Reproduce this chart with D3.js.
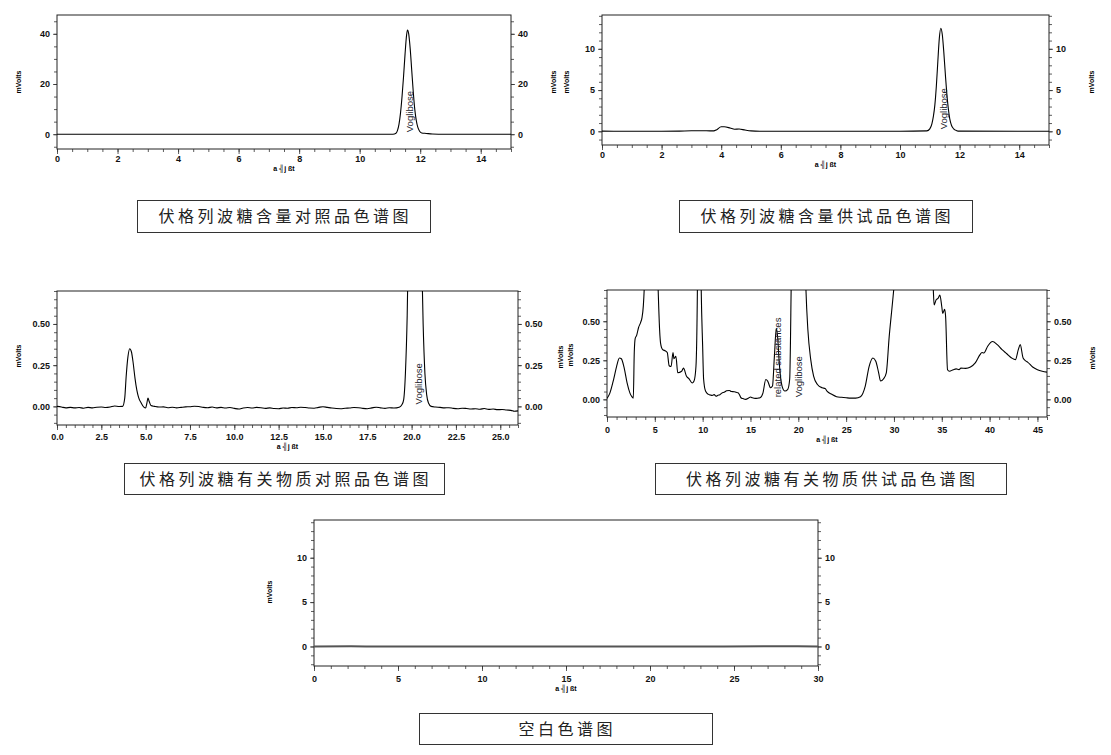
<!DOCTYPE html>
<html><head><meta charset="utf-8">
<script src="https://cdn.jsdelivr.net/npm/d3@7"></script>
<style>
html,body{margin:0;padding:0;background:#fff;}
svg{display:block;}
</style></head>
<body>
<svg id="c" width="1111" height="755"></svg>
<script>
// ---------- DATA ----------
// [retention time (min), signal (mVolts)]
const contentRefTrace = [[0,0],[11.1,0],[11.2,0.4],[11.25,1.5],[11.3,4],[11.35,8.5],[11.4,15],[11.45,23],[11.5,32],[11.55,39.5],[11.58,41.5],[11.62,40],[11.67,34],[11.72,25.5],[11.77,17],[11.82,10],[11.87,5.5],[11.92,2.8],[11.98,1.2],[12.05,0.5],[12.2,0.3],[12.4,0.05],[12.6,0],[15,0]];
const contentSampleTrace = [[0,0.02],[1,0],[2,0],[2.6,0.02],[3.0,0.06],[3.5,0.06],[3.75,0.05],[3.85,0.2],[4.0,0.55],[4.1,0.55],[4.3,0.4],[4.45,0.25],[4.6,0.28],[4.8,0.15],[5.0,0.05],[5.3,0.01],[6,0],[10,0],[10.9,0.05],[11.0,0.3],[11.07,0.9],[11.12,1.8],[11.17,3.2],[11.22,5.5],[11.27,8.5],[11.32,11.3],[11.37,12.5],[11.42,11.7],[11.47,9.6],[11.52,7.0],[11.57,4.6],[11.62,2.8],[11.67,1.5],[11.72,0.8],[11.8,0.3],[11.9,0.08],[12.0,0.02],[15,0]];
const relatedRefTrace = [[0,0],[0.25,-0.004],[0.5,-0.009],[0.75,-0.006],[1.0,-0.009],[1.25,-0.007],[1.5,-0.011],[1.75,-0.006],[2.0,-0.009],[2.25,-0.005],[2.5,-0.004],[2.75,-0.007],[3.0,-0.004],[3.25,0.002],[3.5,-0.001],[3.7,0.0],[3.82,0.05],[3.9,0.18],[4.0,0.3],[4.1,0.35],[4.2,0.33],[4.3,0.26],[4.4,0.17],[4.5,0.1],[4.6,0.055],[4.75,0.02],[4.9,-0.005],[5.0,-0.01],[5.07,0.02],[5.13,0.05],[5.2,0.03],[5.3,0.005],[5.5,0.0],[5.75,-0.004],[6.0,-0.003],[6.25,-0.008],[6.5,-0.005],[6.75,-0.009],[7.0,-0.006],[7.25,-0.003],[7.5,-0.002],[7.75,0.001],[8.0,-0.001],[8.25,-0.006],[8.5,-0.008],[8.75,-0.004],[9.0,-0.009],[9.25,-0.006],[9.5,-0.01],[9.75,-0.007],[10.0,-0.012],[10.25,-0.016],[10.5,-0.01],[10.75,-0.007],[11.0,-0.01],[11.25,-0.006],[11.5,-0.008],[11.75,-0.012],[12.0,-0.009],[12.25,-0.013],[12.5,-0.014],[12.75,-0.01],[13.0,-0.011],[13.25,-0.007],[13.5,-0.008],[13.75,-0.005],[14.0,-0.007],[14.25,-0.01],[14.5,-0.011],[14.75,-0.006],[15.0,-0.002],[15.25,-0.006],[15.5,-0.01],[15.75,-0.013],[16.0,-0.014],[16.25,-0.011],[16.5,-0.01],[16.75,-0.007],[17.0,-0.008],[17.25,-0.012],[17.5,-0.014],[17.75,-0.009],[18.0,-0.005],[18.25,-0.009],[18.5,-0.012],[18.75,-0.008],[19.0,-0.01],[19.3,-0.005],[19.45,0.01],[19.55,0.04],[19.65,0.2],[19.75,0.55],[19.85,1.2],[20.0,2.5],[20.2,3.0],[20.4,2.0],[20.55,1.0],[20.65,0.5],[20.75,0.2],[20.85,0.07],[20.95,0.02],[21.1,0.0],[21.35,-0.004],[21.6,-0.006],[21.85,-0.009],[22.1,-0.008],[22.35,-0.012],[22.6,-0.014],[22.85,-0.011],[23.1,-0.013],[23.35,-0.016],[23.6,-0.014],[23.85,-0.017],[24.1,-0.013],[24.35,-0.018],[24.6,-0.016],[24.85,-0.02],[25.1,-0.019],[25.35,-0.022],[25.6,-0.024],[25.8,-0.03],[26.0,-0.027]];
const relatedSampleTrace = [[0,0.006],[0.3,0.04],[0.7,0.13],[1.0,0.21],[1.3,0.265],[1.5,0.26],[1.8,0.2],[2.1,0.105],[2.4,0.04],[2.6,0.017],[2.75,0.008],[2.85,0.3],[2.95,0.39],[3.1,0.41],[3.3,0.46],[3.5,0.49],[3.65,0.52],[3.8,0.6],[3.9,0.72],[4.2,1.5],[4.6,2.5],[5.0,1.6],[5.25,0.9],[5.35,0.7],[5.5,0.445],[5.6,0.36],[5.8,0.32],[6.1,0.31],[6.3,0.3],[6.5,0.215],[6.7,0.21],[6.9,0.3],[7.0,0.26],[7.2,0.275],[7.4,0.17],[7.8,0.18],[8.0,0.2],[8.3,0.15],[8.6,0.13],[8.9,0.105],[9.1,0.117],[9.3,0.21],[9.45,0.7],[9.55,1.5],[9.65,1.8],[9.75,1.2],[9.85,0.7],[10.0,0.34],[10.1,0.13],[10.3,0.053],[10.6,0.032],[10.8,0.028],[11.0,0.025],[11.2,0.03],[11.4,0.02],[11.6,0.026],[11.8,0.03],[12.0,0.04],[12.3,0.047],[12.5,0.055],[12.8,0.057],[13.0,0.05],[13.3,0.049],[13.5,0.045],[13.7,0.042],[13.85,0.03],[14.0,0.01],[14.2,0.005],[14.5,0.0],[14.8,0.008],[15.0,0.015],[15.2,0.01],[15.5,0.006],[15.8,0.008],[16.0,0.01],[16.3,0.04],[16.6,0.127],[16.8,0.117],[17.1,0.074],[17.3,0.085],[17.5,0.275],[17.7,0.455],[17.85,0.39],[18.0,0.24],[18.3,0.085],[18.6,0.053],[18.9,0.064],[19.1,0.13],[19.25,0.7],[19.4,1.5],[19.8,3.0],[20.3,2.5],[20.6,1.2],[20.8,0.7],[21.0,0.445],[21.3,0.254],[21.6,0.148],[22.0,0.095],[22.5,0.074],[22.8,0.07],[23.0,0.053],[23.5,0.032],[24.0,0.017],[24.5,0.013],[25.0,0.01],[25.5,0.008],[26.0,0.008],[26.5,0.017],[27.0,0.085],[27.4,0.21],[27.8,0.265],[28.1,0.244],[28.4,0.17],[28.6,0.117],[28.9,0.13],[29.2,0.17],[29.5,0.4],[29.8,0.59],[30.0,0.72],[30.5,1.2],[32.0,1.5],[33.5,1.1],[34.1,0.72],[34.2,0.604],[34.4,0.636],[34.6,0.646],[34.8,0.667],[35.0,0.593],[35.1,0.55],[35.3,0.576],[35.4,0.53],[35.6,0.19],[35.8,0.18],[36.2,0.19],[36.5,0.195],[36.8,0.19],[37.0,0.2],[37.5,0.198],[38.0,0.207],[38.5,0.233],[39.0,0.286],[39.2,0.3],[39.4,0.297],[39.8,0.34],[40.3,0.37],[40.8,0.35],[41.3,0.318],[41.8,0.292],[42.3,0.265],[42.7,0.254],[43.0,0.318],[43.2,0.35],[43.5,0.265],[43.8,0.245],[44.0,0.237],[44.5,0.207],[45.0,0.19],[45.5,0.18],[46.0,0.174]];
const blankTrace = [[0,0],[2.2,0.02],[4,0],[8,0.01],[12,0],[20,0],[28.8,0.02],[30,0]];

const p1XTicks = [0,2,4,6,8,10,12,14];
const p1YTicks = [0,20,40];
const p2XTicks = [0,2,4,6,8,10,12,14];
const p2YTicks = [0,5,10];
const p3XTicks = [0,2.5,5,7.5,10,12.5,15,17.5,20,22.5,25];
const p3YTicks = [0,0.25,0.5];
const p4XTicks = [0,5,10,15,20,25,30,35,40,45];
const p4YTicks = [0,0.25,0.5];
const p5XTicks = [0,5,10,15,20,25,30];
const p5YTicks = [0,5,10];

const captions = ["伏格列波糖含量对照品色谱图","伏格列波糖含量供试品色谱图","伏格列波糖有关物质对照品色谱图","伏格列波糖有关物质供试品色谱图","空白色谱图"];
const peakNames = ["Voglibose","related substances"];
const yTitle = "mVolts";
const xTitle = "a ╣j ßt";

// ---------- LAYOUT ----------
const svg = d3.select("#c");
const panels = [
  {trace:contentRefTrace, l:57, r:511, t:15, b:149, xd:[0,15], yd:[-5.9,47.5], xt:p1XTicks, xm:0.5, yt:p1YTicks, ym:5, fmt:d3.format("d"), lo:11,
   yl:[[18,82]], yr:[], labels:[[peakNames[0],11.66]]},
  {trace:contentSampleTrace, l:602, r:1049, t:15, b:145, xd:[0,15], yd:[-1.66,14.1], xt:p2XTicks, xm:0.5, yt:p2YTicks, ym:1, fmt:d3.format("d"), lo:11,
   yl:[[553,82],[566,82]], yr:[[1091,82]], labels:[[peakNames[0],11.47]]},
  {trace:relatedRefTrace, l:57, r:518, t:291, b:425, xd:[0,26], yd:[-0.113,0.70], xt:p3XTicks, xm:0.5, yt:p3YTicks, ym:0.05, fmt:d3.format(".2f"), xfmt:d3.format(".1f"), lo:13,
   yl:[[18,356]], yr:[], labels:[[peakNames[0],20.4]]},
  {trace:relatedSampleTrace, l:607, r:1047, t:290, b:417, xd:[0,46], yd:[-0.113,0.70], xt:p4XTicks, xm:1, yt:p4YTicks, ym:0.05, fmt:d3.format(".2f"), lo:14,
   yl:[[560,357],[570,355]], yr:[[1092,358]], labels:[[peakNames[1],17.85],[peakNames[0],20.05]]},
  {trace:blankTrace, l:314, r:818, t:520, b:666, xd:[0,30], yd:[-2.2,14.25], xt:p5XTicks, xm:1, yt:p5YTicks, ym:1, fmt:d3.format("d"), lo:14,
   yl:[[269,592]], yr:[], labels:[], blank:true}
];
const boxes = [
  {x:137,y:200,w:293,h:32},{x:679,y:200,w:293,h:32},
  {x:124,y:463,w:320,h:31},{x:655,y:463,w:351,h:31},
  {x:419,y:713,w:293,h:31}
];

const tickFont = "Liberation Sans, Arial, sans-serif";

panels.forEach((p,i)=>{
  const x = d3.scaleLinear().domain(p.xd).range([p.l,p.r]);
  const y = d3.scaleLinear().domain(p.yd).range([p.b,p.t]);
  const g = svg.append("g");
  const clipId = "clip"+i;
  svg.append("clipPath").attr("id",clipId).append("rect")
    .attr("x",p.l).attr("y",p.t).attr("width",p.r-p.l).attr("height",p.b-p.t);

  // minor ticks
  const xMinor = d3.range(p.xd[0], p.xd[1]+1e-9, p.xm);
  const yMinor = d3.range(Math.ceil(p.yd[0]/p.ym)*p.ym, p.yd[1]+1e-9, p.ym);
  const bx = d3.axisBottom(x).tickValues(xMinor).tickSize(3).tickFormat("");
  g.append("g").attr("transform",`translate(0,${p.b})`).call(bx);
  const ly = d3.axisLeft(y).tickValues(yMinor).tickSize(3).tickFormat("");
  g.append("g").attr("transform",`translate(${p.l},0)`).call(ly);
  const ry = d3.axisRight(y).tickValues(yMinor).tickSize(3).tickFormat("");
  g.append("g").attr("transform",`translate(${p.r},0)`).call(ry);
  // major ticks with labels
  const bX = d3.axisBottom(x).tickValues(p.xt).tickSize(5).tickPadding(p.lo-9).tickFormat(p.xfmt||d3.format("d"));
  g.append("g").attr("class","maj").attr("transform",`translate(0,${p.b})`).call(bX);
  const lY = d3.axisLeft(y).tickValues(p.yt).tickSize(4).tickPadding(3).tickFormat(p.fmt);
  g.append("g").attr("class","maj").attr("transform",`translate(${p.l},0)`).call(lY);
  const rY = d3.axisRight(y).tickValues(p.yt).tickSize(4).tickPadding(3).tickFormat(p.fmt);
  g.append("g").attr("class","maj").attr("transform",`translate(${p.r},0)`).call(rY);
  g.selectAll(".domain").remove();
  g.selectAll("line").attr("stroke","#333").attr("stroke-width",0.8);
  g.selectAll(".maj text").attr("font-family",tickFont).attr("font-size",9).attr("font-weight","bold").attr("fill","#111");

  // frame
  g.append("rect").attr("x",p.l).attr("y",p.t).attr("width",p.r-p.l).attr("height",p.b-p.t)
    .attr("fill","none").attr("stroke","#222").attr("stroke-width",1);

  // trace
  const line = d3.line().x(d=>x(d[0])).y(d=>y(d[1])).curve(d3.curveMonotoneX);
  g.append("path").datum(p.trace).attr("d",line).attr("clip-path",`url(#${clipId})`)
    .attr("fill","none").attr("stroke",p.blank?"#555":"#000").attr("stroke-width",p.blank?2:1.1);

  // peak labels
  p.labels.forEach(([txt,t])=>{
    g.append("text").attr("transform",`translate(${x(t)+3.5},${y(0)-2}) rotate(-90)`)
      .attr("font-family",tickFont).attr("font-size",9.5).attr("fill","#1a1a2a").text(txt);
  });

  // axis titles
  g.append("text").attr("x",(p.l+p.r)/2).attr("y",p.b+p.lo+11)
    .attr("text-anchor","middle").attr("font-family",tickFont).attr("font-size",7).attr("font-weight","bold").text(xTitle);
  p.yl.concat(p.yr).forEach(([lx,ly2])=>{
    g.append("text").attr("transform",`translate(${lx+2.5},${ly2}) rotate(-90)`)
      .attr("text-anchor","middle").attr("font-family",tickFont).attr("font-size",7).attr("font-weight","bold").text(yTitle);
  });
});

// captions
boxes.forEach((b,i)=>{
  svg.append("rect").attr("x",b.x+0.5).attr("y",b.y+0.5).attr("width",b.w).attr("height",b.h)
    .attr("fill","none").attr("stroke","#333").attr("stroke-width",1);
  svg.append("text").attr("x",b.x+b.w/2+1.75).attr("y",b.y+b.h/2+6)
    .attr("text-anchor","middle").attr("font-family","Noto Sans CJK SC").attr("font-size",16)
    .attr("letter-spacing","3.5px").attr("fill","#222").text(captions[i]);
});
</script>
</body></html>
